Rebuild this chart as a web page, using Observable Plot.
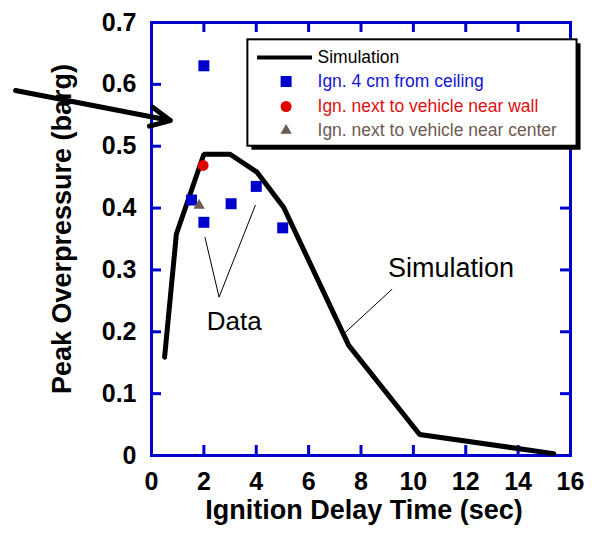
<!DOCTYPE html>
<html>
<head>
<meta charset="utf-8">
<script src="https://cdn.jsdelivr.net/npm/d3@7"></script>
<script src="https://cdn.jsdelivr.net/npm/@observablehq/plot@0.6"></script>
<style>
  html, body { margin: 0; padding: 0; background: #fff; }
  #chart { width: 592px; height: 535px; }
</style>
</head>
<body>
<div id="chart"></div>
<script>
// ---- data ----
const xTicks = [0, 2, 4, 6, 8, 10, 12, 14, 16];
const yTicks = [0, 0.1, 0.2, 0.3, 0.4, 0.5, 0.6, 0.7];
const innerXTicks = [2, 4, 6, 8, 10, 12, 14];
const innerYTicks = [0.1, 0.2, 0.3, 0.4, 0.5, 0.6];

const simX = [0.5, 0.95, 2.0, 3.0, 4.03, 5.05, 7.53, 10.24, 15.36];
const simY = [0.159, 0.358, 0.487, 0.487, 0.458, 0.401, 0.178, 0.034, 0.003];

const ceilX = [1.53, 2.0, 2.0, 3.04, 4.0, 5.01];
const ceilY = [0.413, 0.63, 0.377, 0.407, 0.435, 0.368];

const wallX = [1.97];
const wallY = [0.469];

const centerX = [1.82];
const centerY = [0.404];

const legendLabels = ["Simulation", "Ign. 4 cm from ceiling", "Ign. next to vehicle near wall", "Ign. next to vehicle near center"];

const xLabel = "Ignition Delay Time (sec)";
const yLabel = "Peak Overpressure (barg)";

// ---- layout (positions in data units) ----
const BLUE = "#0000cc", RED = "#e00000", BROWN = "#6e5a52";
const legendBox = {x1: 3.68, x2: 16.25, y1: 0.5, y2: 0.672};
const legendRowsY = [0.6434, 0.6046, 0.5642, 0.5254];
const legendSymX = 5.14, legendTextX = 6.34, legendLineX = [4.03, 6.13];
const legendColors = ["#000", "#1414d4", "#e01010", "#6e5a52"];

const sim = simX.map((x, i) => ({x, y: simY[i]}));
const ceil = ceilX.map((x, i) => ({x, y: ceilY[i]}));
const wall = wallX.map((x, i) => ({x, y: wallY[i]}));
const center = centerX.map((x, i) => ({x, y: centerY[i]}));

const legendRows = legendLabels.map((label, i) => ({label, y: legendRowsY[i], color: legendColors[i]}));

const dataLeaders = [
  {x1: 2.58, y1: 0.256, x2: 2.04, y2: 0.353},
  {x1: 2.58, y1: 0.256, x2: 3.97, y2: 0.405}
];
const simLeader = [{x1: 9.19, y1: 0.269, x2: 7.40, y2: 0.199}];
const arrowSeg = [{x1: -5.19, y1: 0.590, x2: 0.72, y2: 0.5415}];

const FRAME_H = 433, FRAME_W = 419, TICK = 10;

const chart = Plot.plot({
  width: 592,
  height: 535,
  marginLeft: 151,
  marginRight: 22,
  marginTop: 22,
  marginBottom: 80,
  style: {fontFamily: "'Liberation Sans', Arial, sans-serif", fontSize: "25px", fontWeight: "bold", color: "#000", background: "#fff"},
  x: {domain: [0, 16], ticks: xTicks, tickSize: 0, tickPadding: 17, label: null},
  y: {domain: [0, 0.7], ticks: yTicks, tickSize: 0, tickPadding: 15, label: null,
      tickFormat: d => d === 0 ? "0" : d3.format(".1f")(d)},
  marks: [
    // inward ticks
    Plot.ruleX(innerXTicks, {x: d => d, insetTop: FRAME_H - TICK, stroke: BLUE, strokeWidth: 3}),
    Plot.ruleX(innerXTicks, {x: d => d, insetBottom: FRAME_H - TICK, stroke: BLUE, strokeWidth: 3}),
    Plot.ruleY(innerYTicks, {y: d => d, insetRight: FRAME_W - TICK, stroke: BLUE, strokeWidth: 3}),
    Plot.ruleY(innerYTicks, {y: d => d, insetLeft: FRAME_W - TICK, stroke: BLUE, strokeWidth: 3}),
    Plot.frame({stroke: BLUE, strokeWidth: 3}),
    // simulation
    Plot.line(sim, {x: "x", y: "y", stroke: "#000", strokeWidth: 5, strokeLinejoin: "miter"}),
    // data points
    Plot.dot(ceil, {x: "x", y: "y", symbol: "square", r: 6.2, fill: BLUE}),
    Plot.dot(wall, {x: "x", y: "y", symbol: "circle", r: 5.5, fill: RED}),
    Plot.dot(center, {x: "x", y: "y", symbol: "triangle", r: 4.2, fill: BROWN}),
    // annotations
    Plot.link(dataLeaders, {x1: "x1", y1: "y1", x2: "x2", y2: "y2", stroke: "#000", strokeWidth: 1}),
    Plot.link(simLeader, {x1: "x1", y1: "y1", x2: "x2", y2: "y2", stroke: "#000", strokeWidth: 1}),
    Plot.text(["Data"], {x: 3.16, y: 0.2168, text: d => d, fontSize: 26, fontWeight: "normal", fill: "#000"}),
    Plot.text(["Simulation"], {x: 11.44, y: 0.302, text: d => d, fontSize: 27, fontWeight: "normal", fill: "#000"}),
    Plot.arrow(arrowSeg, {x1: "x1", y1: "y1", x2: "x2", y2: "y2", stroke: "#000", strokeWidth: 5, headAngle: 52, headLength: 6.5}),
    // legend
    Plot.rect([legendBox], {x1: "x1", x2: "x2", y1: "y1", y2: "y2", fill: "#000", dx: 4, dy: 4}),
    Plot.rect([legendBox], {x1: "x1", x2: "x2", y1: "y1", y2: "y2", fill: "#fff", stroke: "#000", strokeWidth: 2}),
    Plot.link([legendRows[0]], {x1: legendLineX[0], x2: legendLineX[1], y1: "y", y2: "y", stroke: "#000", strokeWidth: 4}),
    Plot.dot([legendRows[1]], {x: legendSymX, y: "y", symbol: "square", r: 6.2, fill: BLUE}),
    Plot.dot([legendRows[2]], {x: legendSymX, y: "y", symbol: "circle", r: 5.5, fill: RED}),
    Plot.dot([legendRows[3]], {x: legendSymX, y: "y", symbol: "triangle", r: 4.2, fill: BROWN}),
    Plot.text(legendRows, {x: legendTextX, y: "y", text: "label", fill: "color", textAnchor: "start", fontSize: 17.5, fontWeight: "normal"}),
    // axis titles
    Plot.text([xLabel], {frameAnchor: "bottom", text: d => d, textAnchor: "middle", dy: 63, dx: 3, fontSize: 27, fontWeight: "bold", fill: "#000"}),
    Plot.text([yLabel], {frameAnchor: "left", text: d => d, textAnchor: "middle", rotate: -90, dx: -89, dy: -10, fontSize: 27, fontWeight: "bold", fill: "#000"})
  ]
});
document.getElementById("chart").appendChild(chart);
</script>
</body>
</html>
